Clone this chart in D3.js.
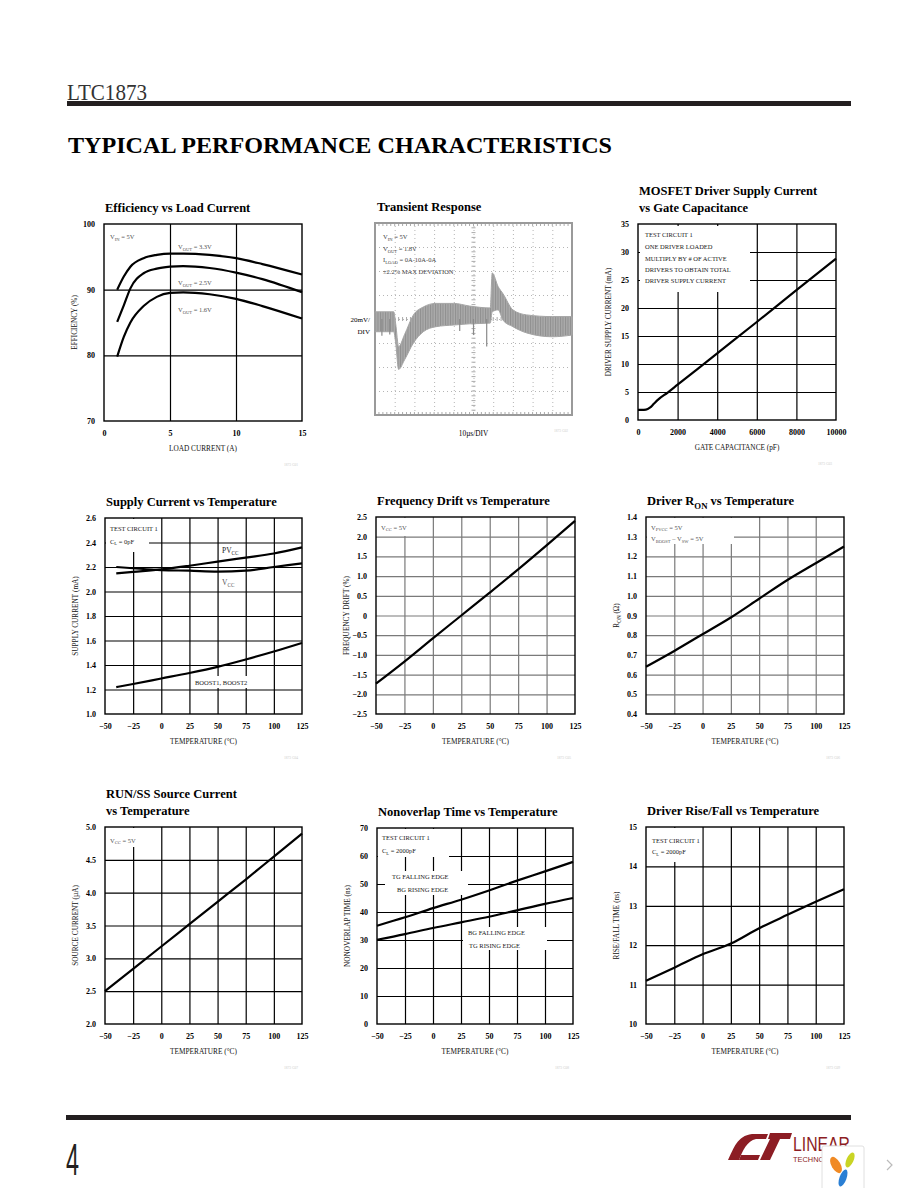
<!DOCTYPE html>
<html><head><meta charset="utf-8">
<script src="https://cdn.jsdelivr.net/npm/d3@7"></script>
<style>
html,body{margin:0;padding:0;background:#fff;}
svg{display:block;}
</style></head><body>
<script>
// ================= DATA =================
// Efficiency vs Load Current
const effLoadA  = [1, 1.5, 2, 3, 4, 5, 6, 8, 10, 12, 15];
const effVout33 = [90, 92, 93.5, 94.8, 95.3, 95.5, 95.5, 95.3, 94.8, 93.9, 92.3];
const effVout25 = [85.1, 87.6, 90.2, 92.5, 93.2, 93.5, 93.6, 93.3, 92.6, 91.6, 89.6];
const effVout16 = [79.8, 82.8, 85, 87.5, 88.9, 89.5, 89.6, 89.3, 88.6, 87.5, 85.6];
const effXTicks = [0, 5, 10, 15];
const effXLabels = ["0", "5", "10", "15"];
const effYTicks = [70, 80, 90, 100];
const effYLabels = ["70", "80", "90", "100"];

// Transient response (divisions)
const trT   = [0, 0.95, 1.05, 1.2, 1.5, 1.95, 2.45, 3.1, 4.0, 4.8, 5.85, 5.95, 6.25, 6.5, 7.0, 7.7, 9.0, 10];
const trTop = [0.3, 0.3, -0.2, -1.15, -0.65, 0.17, 0.5, 0.65, 0.65, 0.54, 0.46, 1.92, 1.35, 1.05, 0.38, 0.17, 0.1, 0.1];
const trBot = [-0.53, -0.53, -1.0, -2.1, -1.7, -1.0, -0.53, -0.32, -0.25, -0.2, -0.17, 0.3, 0.38, -0.05, -0.32, -0.58, -0.74, -0.67];
const trSpikeT  = [0.35, 0.75, 4.3, 5.0, 5.67];
const trSpikeLo = [-0.7, -0.65, -0.5, -0.67, -1.15];

// MOSFET driver supply current vs gate capacitance
const gateCapPF = [0, 200, 400, 600, 800, 1000, 1500, 2000, 4000, 6000, 8000, 10000];
const driverImA = [1.8, 1.8, 1.85, 2.2, 2.9, 3.6, 4.9, 6.3, 11.9, 17.5, 23.2, 28.8];
const mosXTicks = [0, 2000, 4000, 6000, 8000, 10000];
const mosXLabels = ["0", "2000", "4000", "6000", "8000", "10000"];
const mosYTicks = [0, 5, 10, 15, 20, 25, 30, 35];
const mosYLabels = ["0", "5", "10", "15", "20", "25", "30", "35"];

// Temperature axis (common)
const tempTicks = [-50, -25, 0, 25, 50, 75, 100, 125];
const tempLabels = ["\u221250", "\u221225", "0", "25", "50", "75", "100", "125"];
const tempC = [-50, -25, 0, 25, 50, 75, 100, 125];

// Supply current vs temperature
const supTempC = [-40, -25, 0, 25, 50, 75, 100, 125];
const supPVCC  = [2.148, 2.16, 2.18, 2.21, 2.244, 2.277, 2.31, 2.36];
const supVCC   = [2.2, 2.19, 2.175, 2.17, 2.163, 2.17, 2.2, 2.23];
const supBoost = [1.22, 1.245, 1.29, 1.335, 1.385, 1.445, 1.51, 1.58];
const supYTicks = [1.0, 1.2, 1.4, 1.6, 1.8, 2.0, 2.2, 2.4, 2.6];
const supYLabels = ["1.0", "1.2", "1.4", "1.6", "1.8", "2.0", "2.2", "2.4", "2.6"];

// Frequency drift
const freqDrift = [-1.73, -1.17, -0.58, 0, 0.58, 1.17, 1.78, 2.4];
const freqYTicks = [-2.5, -2, -1.5, -1, -0.5, 0, 0.5, 1, 1.5, 2, 2.5];
const freqYLabels = ["\u22122.5", "\u22122.0", "\u22121.5", "\u22121.0", "\u22120.5", "0", "0.5", "1.0", "1.5", "2.0", "2.5"];

// Driver RON
const ronOhm = [0.64, 0.72, 0.805, 0.89, 0.985, 1.08, 1.165, 1.25];
const ronYTicks = [0.4, 0.5, 0.6, 0.7, 0.8, 0.9, 1.0, 1.1, 1.2, 1.3, 1.4];
const ronYLabels = ["0.4", "0.5", "0.6", "0.7", "0.8", "0.9", "1.0", "1.1", "1.2", "1.3", "1.4"];

// RUN/SS source current
const runSSuA = [2.5, 2.84, 3.18, 3.52, 3.86, 4.2, 4.55, 4.9];
const runYTicks = [2.0, 2.5, 3.0, 3.5, 4.0, 4.5, 5.0];
const runYLabels = ["2.0", "2.5", "3.0", "3.5", "4.0", "4.5", "5.0"];

// Nonoverlap time
const nonTGFall = [35.1, 38.1, 41.4, 44.4, 47.7, 51.2, 54.5, 57.9];
const nonBGFall = [30.1, 32.1, 34.3, 36.3, 38.3, 40.6, 42.9, 45.0];
const nonYTicks = [0, 10, 20, 30, 40, 50, 60, 70];
const nonYLabels = ["0", "10", "20", "30", "40", "50", "60", "70"];

// Driver rise/fall
const riseFallNs = [11.1, 11.43, 11.77, 12.04, 12.43, 12.77, 13.1, 13.42];
const riseYTicks = [10, 11, 12, 13, 14, 15];
const riseYLabels = ["10", "11", "12", "13", "14", "15"];

// ================= DRAWING =================
const SERIF = "'Liberation Serif','Times New Roman',serif";
const svg = d3.select("body").append("svg").attr("width", 918).attr("height", 1188)
  .attr("font-family", SERIF);

function rich(sel, parts, size) {
  let pend = 0;
  parts.forEach(pt => {
    const isSub = typeof pt !== "string";
    const ts = sel.append("tspan").text(isSub ? pt.sub : pt);
    if (isSub) { ts.attr("font-size", size * 0.7).attr("dy", size * 0.28 + pend); pend = -size * 0.28; }
    else { if (pend) ts.attr("dy", pend); pend = 0; }
  });
}

// Header
svg.append("text").attr("x", 67).attr("y", 100).attr("font-size", 23).attr("fill", "#333")
  .attr("textLength", 80).attr("lengthAdjust", "spacingAndGlyphs").text("LTC1873");
svg.append("rect").attr("x", 67).attr("y", 101).attr("width", 784).attr("height", 5).attr("fill", "#231f20");
svg.append("text").attr("x", 68).attr("y", 153).attr("font-size", 23).attr("font-weight", "bold")
  .attr("textLength", 544).attr("lengthAdjust", "spacingAndGlyphs").text("TYPICAL PERFORMANCE CHARACTERISTICS");

function panel(p) {
  const [x0, y0, x1, y1] = p.box, w = x1 - x0, h = y1 - y0;
  const x = d3.scaleLinear().domain(p.xDomain).range([x0, x1]);
  const y = d3.scaleLinear().domain(p.yDomain).range([y1, y0]);
  const g = svg.append("g");
  const gc = p.gridColor || "#000";
  g.append("g").attr("transform", `translate(0,${y1})`).attr("color", gc)
    .call(d3.axisBottom(x).tickValues(p.xTicks.slice(1, -1)).tickSize(-h).tickFormat(""))
    .call(a => a.select(".domain").remove())
    .selectAll("line").attr("stroke-width", 1.2);
  g.append("g").attr("transform", `translate(${x0},0)`).attr("color", gc)
    .call(d3.axisLeft(y).tickValues(p.yTicks.slice(1, -1)).tickSize(-w).tickFormat(""))
    .call(a => a.select(".domain").remove())
    .selectAll("line").attr("stroke-width", 1.2);
  (p.bgs || []).forEach(b => g.append("rect").attr("x", x0 + b[0]).attr("y", y0 + b[1])
    .attr("width", b[2]).attr("height", b[3]).attr("fill", "#fff"));
  g.append("rect").attr("x", x0).attr("y", y0).attr("width", w).attr("height", h)
    .attr("fill", "none").attr("stroke", "#000").attr("stroke-width", 1.4);
  const line = d3.line().curve(d3.curveMonotoneX);
  p.series.forEach(s => g.append("path").attr("d", line(s.x.map((v, i) => [x(v), y(s.y[i])])))
    .attr("fill", "none").attr("stroke", "#000").attr("stroke-width", 2.2));
  const xa = g.append("g").attr("transform", `translate(0,${y1})`)
    .call(d3.axisBottom(x).tickValues(p.xTicks).tickSize(0).tickPadding(9).tickFormat((d, i) => p.xLabels[i]));
  xa.select(".domain").remove();
  xa.attr("font-family", SERIF).attr("font-size", 8).attr("font-weight", "bold");
  xa.selectAll("text").attr("fill", "#000");
  const ya = g.append("g").attr("transform", `translate(${x0},0)`)
    .call(d3.axisLeft(y).tickValues(p.yTicks).tickSize(0).tickPadding(9).tickFormat((d, i) => p.yLabels[i]));
  ya.select(".domain").remove();
  ya.attr("font-family", SERIF).attr("font-size", 8).attr("font-weight", "bold");
  ya.selectAll("text").attr("fill", "#000");
  // titles
  const nT = p.title.length;
  p.title.forEach((parts, i) => {
    const t = g.append("text").attr("x", x0 + 1).attr("y", y0 - 12 - (nT - 1 - i) * 17)
      .attr("font-size", 12.5).attr("font-weight", "bold").attr("fill", "#000");
    rich(t, parts, 12.5);
  });
  const xt = g.append("text").attr("x", (x0 + x1) / 2).attr("y", y1 + 30).attr("text-anchor", "middle")
    .attr("font-size", 7.3).attr("fill", "#111");
  rich(xt, p.xTitle, 7.3);
  const yt = g.append("text").attr("transform", `translate(${x0 - 27},${(y0 + y1) / 2}) rotate(-90)`)
    .attr("text-anchor", "middle").attr("font-size", 7.3).attr("fill", "#111");
  rich(yt, p.yTitle, 7.3);
  (p.notes || []).forEach(n => {
    const t = g.append("text").attr("x", x0 + n.dx).attr("y", y0 + n.dy)
      .attr("font-size", n.size || 6.5).attr("fill", n.color || "#222");
    rich(t, n.parts, n.size || 6.5);
  });
  g.append("text").attr("x", x1 - 4).attr("y", y1 + 45).attr("font-size", 3.5).attr("fill", "#ccc")
    .attr("text-anchor", "end").text(p.fig);
}

panel({
  box: [104, 224, 302, 421], xDomain: [0, 15], yDomain: [70, 100],
  xTicks: effXTicks, xLabels: effXLabels, yTicks: effYTicks, yLabels: effYLabels,
  title: [["Efficiency vs Load Current"]], xTitle: ["LOAD CURRENT (A)"], yTitle: ["EFFICIENCY (%)"],
  series: [{ x: effLoadA, y: effVout33 }, { x: effLoadA, y: effVout25 }, { x: effLoadA, y: effVout16 }],
  notes: [
    { dx: 6, dy: 15, parts: ["V", { sub: "IN" }, " = 5V"], color: "#555" },
    { dx: 74, dy: 25, parts: ["V", { sub: "OUT" }, " = 3.3V"], color: "#555" },
    { dx: 74, dy: 61, parts: ["V", { sub: "OUT" }, " = 2.5V"], color: "#555" },
    { dx: 74, dy: 88, parts: ["V", { sub: "OUT" }, " = 1.6V"], color: "#555" }
  ], fig: "1873 G01"
});

panel({
  box: [638, 224, 836, 420], xDomain: [0, 10000], yDomain: [0, 35],
  xTicks: mosXTicks, xLabels: mosXLabels, yTicks: mosYTicks, yLabels: mosYLabels,
  title: [["MOSFET Driver Supply Current"], ["vs Gate Capacitance"]],
  xTitle: ["GATE CAPACITANCE (pF)"], yTitle: ["DRIVER SUPPLY CURRENT (mA)"],
  series: [{ x: gateCapPF, y: driverImA }],
  bgs: [[2, 2, 110, 66]],
  notes: [
    { dx: 7, dy: 13, parts: ["TEST CIRCUIT 1"] },
    { dx: 7, dy: 25, parts: ["ONE DRIVER LOADED"] },
    { dx: 7, dy: 37, parts: ["MULTIPLY BY # OF ACTIVE"] },
    { dx: 7, dy: 48, parts: ["DRIVERS TO OBTAIN TOTAL"] },
    { dx: 7, dy: 59, parts: ["DRIVER SUPPLY CURRENT"] }
  ], fig: "1873 G03"
});

panel({
  box: [105, 518, 302, 714], xDomain: [-50, 125], yDomain: [1.0, 2.6],
  xTicks: tempTicks, xLabels: tempLabels, yTicks: supYTicks, yLabels: supYLabels,
  title: [["Supply Current vs Temperature"]], xTitle: ["TEMPERATURE (\u00B0C)"], yTitle: ["SUPPLY CURRENT (mA)"],
  series: [{ x: supTempC, y: supPVCC }, { x: supTempC, y: supVCC }, { x: supTempC, y: supBoost }],
  bgs: [[1, 1, 43, 33], [88, 158, 80, 12]],
  notes: [
    { dx: 5, dy: 13, parts: ["TEST CIRCUIT 1"] },
    { dx: 5, dy: 25.5, parts: ["C", { sub: "L" }, " = 0pF"] },
    { dx: 117, dy: 35, parts: ["PV", { sub: "CC" }], size: 7.5 },
    { dx: 117, dy: 67, parts: ["V", { sub: "CC" }], size: 7.5, color: "#555" },
    { dx: 90, dy: 167, parts: ["BOOST1, BOOST2"] }
  ], fig: "1873 G04"
});

panel({
  box: [376, 517, 575, 714], xDomain: [-50, 125], yDomain: [-2.5, 2.5], gridColor: "#7a7a7a",
  xTicks: tempTicks, xLabels: tempLabels, yTicks: freqYTicks, yLabels: freqYLabels,
  title: [["Frequency Drift vs Temperature"]], xTitle: ["TEMPERATURE (\u00B0C)"], yTitle: ["FREQUENCY DRIFT (%)"],
  series: [{ x: tempC, y: freqDrift }],
  bgs: [[1, 1, 40, 18]],
  notes: [{ dx: 5, dy: 12.5, parts: ["V", { sub: "CC" }, " = 5V"], color: "#555" }],
  fig: "1873 G05"
});

panel({
  box: [646, 517, 844, 714], xDomain: [-50, 125], yDomain: [0.4, 1.4], gridColor: "#7a7a7a",
  xTicks: tempTicks, xLabels: tempLabels, yTicks: ronYTicks, yLabels: ronYLabels,
  title: [["Driver R", { sub: "ON" }, " vs Temperature"]], xTitle: ["TEMPERATURE (\u00B0C)"],
  yTitle: ["R", { sub: "ON" }, " (\u03A9)"],
  series: [{ x: tempC, y: ronOhm }],
  bgs: [[1, 1, 87, 26]],
  notes: [
    { dx: 5, dy: 12.5, parts: ["V", { sub: "PVCC" }, " = 5V"], color: "#555" },
    { dx: 5, dy: 24, parts: ["V", { sub: "BOOST" }, " \u2013 V", { sub: "SW" }, " = 5V"], color: "#555" }
  ], fig: "1873 G06"
});

panel({
  box: [105, 827, 302, 1024], xDomain: [-50, 125], yDomain: [2.0, 5.0],
  xTicks: tempTicks, xLabels: tempLabels, yTicks: runYTicks, yLabels: runYLabels,
  title: [["RUN/SS Source Current"], ["vs Temperature"]], xTitle: ["TEMPERATURE (\u00B0C)"],
  yTitle: ["SOURCE CURRENT (\u00B5A)"],
  series: [{ x: tempC, y: runSSuA }],
  bgs: [[1, 1, 30, 19]],
  notes: [{ dx: 5, dy: 15.5, parts: ["V", { sub: "CC" }, " = 5V"], color: "#555" }],
  fig: "1873 G07"
});

panel({
  box: [377, 828, 573, 1024], xDomain: [-50, 125], yDomain: [0, 70],
  xTicks: tempTicks, xLabels: tempLabels, yTicks: nonYTicks, yLabels: nonYLabels,
  title: [["Nonoverlap Time vs Temperature"]], xTitle: ["TEMPERATURE (\u00B0C)"],
  yTitle: ["NONOVERLAP TIME (ns)"],
  series: [{ x: tempC, y: nonTGFall }, { x: tempC, y: nonBGFall }],
  bgs: [[1, 1, 71, 28], [8, 43, 83, 24], [86, 99, 84, 23]],
  notes: [
    { dx: 5, dy: 12, parts: ["TEST CIRCUIT 1"] },
    { dx: 5, dy: 25, parts: ["C", { sub: "L" }, " = 2000pF"] },
    { dx: 15, dy: 51, parts: ["TG FALLING EDGE"] },
    { dx: 20, dy: 64, parts: ["BG RISING EDGE"] },
    { dx: 91, dy: 106.5, parts: ["BG FALLING EDGE"] },
    { dx: 92, dy: 119.5, parts: ["TG RISING EDGE"] }
  ], fig: "1873 G08"
});

panel({
  box: [646, 827, 844, 1024], xDomain: [-50, 125], yDomain: [10, 15],
  xTicks: tempTicks, xLabels: tempLabels, yTicks: riseYTicks, yLabels: riseYLabels,
  title: [["Driver Rise/Fall vs Temperature"]], xTitle: ["TEMPERATURE (\u00B0C)"],
  yTitle: ["RISE/FALL TIME (ns)"],
  series: [{ x: tempC, y: riseFallNs }],
  bgs: [[1, 1, 51, 34]],
  notes: [
    { dx: 6, dy: 16, parts: ["TEST CIRCUIT 1"] },
    { dx: 6, dy: 27, parts: ["C", { sub: "L" }, " = 2000pF"] }
  ], fig: "1873 G09"
});

// ---------- Transient response (scope capture) ----------
(function () {
  const X0 = 375, Y0 = 223, X1 = 572, Y1 = 415;
  const tx = d3.scaleLinear().domain([0, 10]).range([X0, X1]);
  const ty = d3.scaleLinear().domain([-4, 4]).range([Y1, Y0]);
  const g = svg.append("g");
  const defs = svg.append("defs");
  const pat = defs.append("pattern").attr("id", "ripple").attr("patternUnits", "userSpaceOnUse")
    .attr("width", 2.5).attr("height", 6);
  pat.append("rect").attr("width", 2.5).attr("height", 6).attr("fill", "#ababab");
  pat.append("rect").attr("width", 1).attr("height", 6).attr("fill", "#8f8f8f");

  g.append("g").attr("transform", `translate(0,${Y1})`).attr("color", "#b5b5b5")
    .call(d3.axisBottom(tx).tickValues(d3.range(1, 10)).tickSize(-(Y1 - Y0)).tickFormat(""))
    .call(a => a.select(".domain").remove())
    .selectAll("line").attr("stroke-dasharray", "1,3");
  g.append("g").attr("transform", `translate(${X0},0)`).attr("color", "#b5b5b5")
    .call(d3.axisLeft(ty).tickValues(d3.range(-3, 4)).tickSize(-(X1 - X0)).tickFormat(""))
    .call(a => a.select(".domain").remove())
    .selectAll("line").attr("stroke-dasharray", "1,3");
  const minorT = d3.range(0, 10.01, 0.2), minorV = d3.range(-4, 4.01, 0.2);
  g.selectAll(".mh").data(minorT).join("line").attr("x1", d => tx(d)).attr("x2", d => tx(d))
    .attr("y1", ty(0) - 2).attr("y2", ty(0) + 2).attr("stroke", "#aaa");
  g.selectAll(".mv").data(minorV).join("line").attr("y1", d => ty(d)).attr("y2", d => ty(d))
    .attr("x1", tx(5) - 2).attr("x2", tx(5) + 2).attr("stroke", "#aaa");
  g.selectAll(".mb").data(minorT).join("line").attr("x1", d => tx(d)).attr("x2", d => tx(d))
    .attr("y1", Y1 - 3).attr("y2", Y1).attr("stroke", "#aaa");
  g.selectAll(".mt").data(minorT).join("line").attr("x1", d => tx(d)).attr("x2", d => tx(d))
    .attr("y1", Y0).attr("y2", Y0 + 3).attr("stroke", "#aaa");
  g.append("rect").attr("x", X0).attr("y", Y0).attr("width", X1 - X0).attr("height", Y1 - Y0)
    .attr("fill", "none").attr("stroke", "#9a9a9a").attr("stroke-width", 2);

  const area = d3.area().curve(d3.curveMonotoneX)
    .x((d, i) => tx(trT[i])).y0((d, i) => ty(trBot[i])).y1((d, i) => ty(trTop[i]));
  g.append("path").attr("d", area(trT)).attr("fill", "url(#ripple)").attr("stroke", "#a5a5a5").attr("stroke-width", 1);
  g.selectAll(".spk").data(trSpikeT).join("line")
    .attr("x1", d => tx(d)).attr("x2", d => tx(d))
    .attr("y1", ty(0)).attr("y2", (d, i) => ty(trSpikeLo[i])).attr("stroke", "#8a8a8a").attr("stroke-width", 1.2);

  const notes = [["V", { sub: "IN" }, " = 5V"], ["V", { sub: "OUT" }, " = 1.8V"],
    ["I", { sub: "LOAD" }, " = 0A-10A-0A"], ["\u00B12.2% MAX DEVIATION"]];
  notes.forEach((n, i) => {
    const t = g.append("text").attr("x", X0 + 8).attr("y", Y0 + 16 + i * 11.7).attr("font-size", 6.5).attr("fill", "#444");
    rich(t, n, 6.5);
  });
  g.append("text").attr("x", 370).attr("y", 322).attr("text-anchor", "end").attr("font-size", 7).text("20mV/");
  g.append("text").attr("x", 370).attr("y", 334).attr("text-anchor", "end").attr("font-size", 7).text("DIV");
  g.append("text").attr("x", (X0 + X1) / 2).attr("y", 436).attr("text-anchor", "middle").attr("font-size", 7.3).text("10\u00B5s/DIV");
  g.append("text").attr("x", X0 + 2).attr("y", Y0 - 12).attr("font-size", 12.5).attr("font-weight", "bold").text("Transient Response");
  g.append("text").attr("x", X1 - 4).attr("y", Y1 + 17).attr("font-size", 3.5).attr("fill", "#ccc")
    .attr("text-anchor", "end").text("1873 G02");
})();

// ---------- Footer ----------
svg.append("rect").attr("x", 66).attr("y", 1115).attr("width", 785).attr("height", 5).attr("fill", "#231f20");
svg.append("text").attr("x", 66).attr("y", 1175).attr("font-family", "'Liberation Sans',sans-serif")
  .attr("font-size", 44).attr("fill", "#231f20").attr("textLength", 13).attr("lengthAdjust", "spacingAndGlyphs").text("4");
const logo = svg.append("g").attr("fill", "#8c1d24");
logo.append("path").attr("d", "M728,1160 C734,1148 737,1136 752,1134 L768,1134 L766,1139 L756,1139 C747,1141 743,1150 739,1160 Z");
logo.append("path").attr("d", "M739,1160 L758,1160 L760,1155 L741,1155 Z");
logo.append("path").attr("d", "M770,1133 L792,1133 L790,1139 L780,1139 L770,1160 L760,1160 L770,1139 L768,1139 Z");
logo.append("text").attr("x", 793).attr("y", 1151).attr("font-family", "'Liberation Sans',sans-serif").attr("font-size", 21)
  .attr("textLength", 57).attr("lengthAdjust", "spacingAndGlyphs").text("LINEAR");
logo.append("text").attr("x", 793).attr("y", 1162).attr("font-family", "'Liberation Sans',sans-serif").attr("font-size", 7)
  .attr("textLength", 52).attr("lengthAdjust", "spacingAndGlyphs").text("TECHNOLOGY");
svg.append("rect").attr("x", 822).attr("y", 1146).attr("width", 42).attr("height", 50).attr("rx", 2)
  .attr("fill", "#fff").attr("stroke", "#e0e0e0");
svg.append("ellipse").attr("transform", "translate(836,1165) rotate(-30)").attr("rx", 4.5).attr("ry", 9).attr("fill", "#f08a24");
svg.append("ellipse").attr("transform", "translate(850,1160) rotate(25)").attr("rx", 3.5).attr("ry", 8).attr("fill", "#c9d424");
svg.append("ellipse").attr("transform", "translate(843,1178) rotate(20)").attr("rx", 3.5).attr("ry", 9).attr("fill", "#2a7fd4");
svg.append("path").attr("d", "M887,1160 L892,1165 L887,1170").attr("fill", "none").attr("stroke", "#bbb").attr("stroke-width", 1.2);
</script>
</body></html>
